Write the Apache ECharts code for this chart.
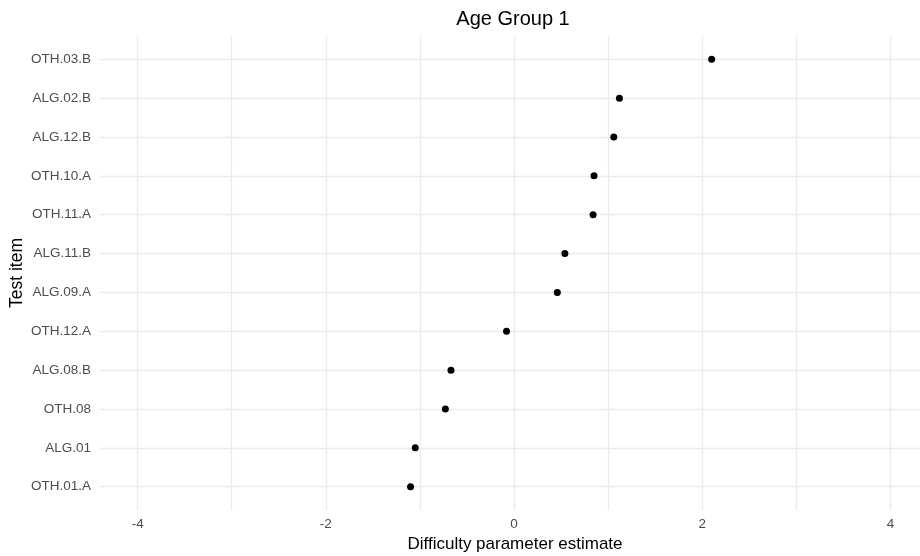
<!DOCTYPE html>
<html>
<head>
<meta charset="utf-8">
<script src="https://cdn.jsdelivr.net/npm/echarts@6/dist/echarts.min.js"></script>
<style>
html,body{margin:0;padding:0;background:#fff;}
#chart{width:920px;height:556px;}
</style>
</head>
<body>
<div id="chart"></div>
<script>
// Items from bottom to top
const items = ["OTH.01.A","ALG.01","OTH.08","ALG.08.B","OTH.12.A","ALG.09.A","ALG.11.B","OTH.11.A","OTH.10.A","ALG.12.B","ALG.02.B","OTH.03.B"];
const estimates = [-1.10,-1.05,-0.73,-0.67,-0.08,0.46,0.54,0.84,0.85,1.06,1.12,2.10];
const xTickLabels = [-4,-2,0,2,4];
const xGridValues = [-4,-3,-2,-1,0,1,2,3,4];

const chart = echarts.init(document.getElementById('chart'), null, {renderer:'canvas'});
const font = 'Liberation Sans, Arial, Helvetica, sans-serif';
const gridColor = '#ebebeb';

const option = {
  backgroundColor:'#ffffff',
  animation:false,
  title:{
    text:'Age Group 1',
    left:508, top:4,
    textAlign:'center',
    textStyle:{fontFamily:font,fontSize:20,fontWeight:'normal',color:'#000'}
  },
  grid:{left:100, top:36, right:0, height:474, containLabel:false, outerBoundsMode:'none'},
  xAxis:{
    type:'value', min:-4.4, max:4.314,
    name:'Difficulty parameter estimate',
    nameLocation:'middle', nameGap:25,
    nameTextStyle:{fontFamily:font,fontSize:17,color:'#000',padding:[0,0,0,10]},
    axisLine:{show:false}, axisTick:{show:false},
    splitLine:{show:false},
    axisLabel:{customValues:xTickLabels, fontFamily:font, fontSize:13.5, color:'#4d4d4d', margin:7,
      showMinLabel:true, showMaxLabel:true, formatter:v=>String(v)}
  },
  yAxis:{
    type:'value', min:-0.6, max:items.length-1+0.6,
    name:'Test item', nameLocation:'middle', nameGap:74, nameRotate:90,
    nameMoveOverlap:false,
    nameTextStyle:{fontFamily:font,fontSize:17.5,color:'#000'},
    axisLine:{show:false}, axisTick:{show:false},
    splitLine:{show:false},
    axisLabel:{customValues:items.map((_,i)=>i), fontFamily:font, fontSize:13.5, color:'#4d4d4d', margin:9,
      formatter:v=>items[Math.round(v)]}
  },
  series:[
    {
      type:'scatter', silent:true, data:[], z:1,
      markLine:{
        silent:true, symbol:['none','none'], label:{show:false},
        lineStyle:{color:gridColor,width:1.3,type:'solid',opacity:1},
        data:[...xGridValues.map(v=>({xAxis:v})), ...items.map((_,i)=>({yAxis:i}))]
      }
    },
    {
      type:'scatter', z:5,
      symbol:'circle', symbolSize:7,
      itemStyle:{color:'#000000',opacity:1},
      data: estimates.map((v,i)=>[v,i])
    }
  ]
};
chart.setOption(option);
</script>
</body>
</html>
